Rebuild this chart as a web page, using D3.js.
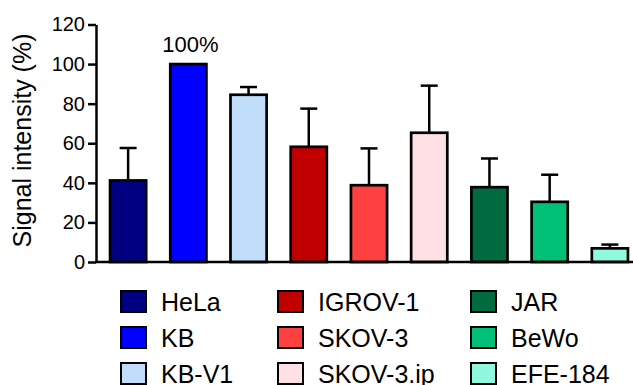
<!DOCTYPE html>
<html><head><meta charset="utf-8">
<script src="https://cdn.jsdelivr.net/npm/d3@7"></script>
<style>body{margin:0;background:#fff}svg{display:block}text{font-family:"Liberation Sans",Arial,sans-serif;fill:#000}</style>
</head><body><svg id="c" width="633" height="385"></svg>
<script>
const categories = ["HeLa","KB","KB-V1","IGROV-1","SKOV-3","SKOV-3.ip","JAR","BeWo","EFE-184"];
const values = [41.2, 100, 84.5, 58.2, 38.8, 65.3, 37.8, 30.4, 6.9];
const errors = [16.4, 0, 3.9, 19.3, 18.6, 23.8, 14.5, 13.7, 1.9];
const colors = ["#000080","#0000ff","#c0defa","#c00000","#ff4040","#ffe0e4","#006a40","#00c078","#90f8dc"];
const yTicks = [0,20,40,60,80,100,120];

const svg = d3.select("#c");
const x = d3.scaleBand().domain(categories).range([98, 640]).paddingInner(0.4).paddingOuter(0.2);
const y = d3.scaleLinear().domain([0,120]).range([262, 24.5]);

// bars
svg.append("g").selectAll("rect").data(categories).join("rect")
  .attr("x", d => x(d)).attr("width", x.bandwidth())
  .attr("y", (d,i) => y(values[i])).attr("height", (d,i) => y(0) - y(values[i]))
  .attr("fill", (d,i) => colors[i]).attr("stroke", "#000").attr("stroke-width", 2.7);

// error bars
const eg = svg.append("g").attr("stroke", "#000").attr("stroke-width", 2.5);
categories.forEach((d,i) => {
  if (!errors[i]) return;
  const cx = x(d) + x.bandwidth()/2;
  eg.append("line").attr("x1", cx).attr("x2", cx).attr("y1", y(values[i])).attr("y2", y(values[i]+errors[i]));
  eg.append("line").attr("x1", cx-8.5).attr("x2", cx+8.5).attr("y1", y(values[i]+errors[i])).attr("y2", y(values[i]+errors[i]));
});

// y axis
const ya = svg.append("g").attr("transform", "translate(96,0)")
  .call(d3.axisLeft(y).tickValues(yTicks).tickSize(8).tickSizeOuter(0).tickPadding(3));
ya.select(".domain").attr("stroke-width", 2.5);
ya.selectAll(".tick line").attr("stroke-width", 2.5);
ya.selectAll(".tick text").attr("font-size", 20).attr("font-family", "Liberation Sans, Arial, sans-serif");

// x axis line
svg.append("line").attr("x1", 95).attr("x2", 633).attr("y1", y(0)).attr("y2", y(0)).attr("stroke", "#000").attr("stroke-width", 2.5);

// y title
svg.append("text").attr("transform", "translate(31,140.5) rotate(-90)").attr("text-anchor", "middle")
  .attr("font-size", 25).text("Signal intensity (%)");

// 100% label
svg.append("text").attr("x", x("KB") + x.bandwidth()/2 + 2).attr("y", 52).attr("text-anchor", "middle")
  .attr("font-size", 22).text("100%");

// legend
const colX = [121, 278, 471];
const rowY = [291, 327, 363];
const lg = svg.append("g");
categories.forEach((d,i) => {
  const c = Math.floor(i/3), r = i%3;
  lg.append("rect").attr("x", colX[c]).attr("y", rowY[r]).attr("width", 25).attr("height", 21)
    .attr("fill", colors[i]).attr("stroke", "#000").attr("stroke-width", 2);
  lg.append("text").attr("x", colX[c] + 40).attr("y", rowY[r] + 19.5).attr("font-size", 25).text(d);
});
</script></body></html>
